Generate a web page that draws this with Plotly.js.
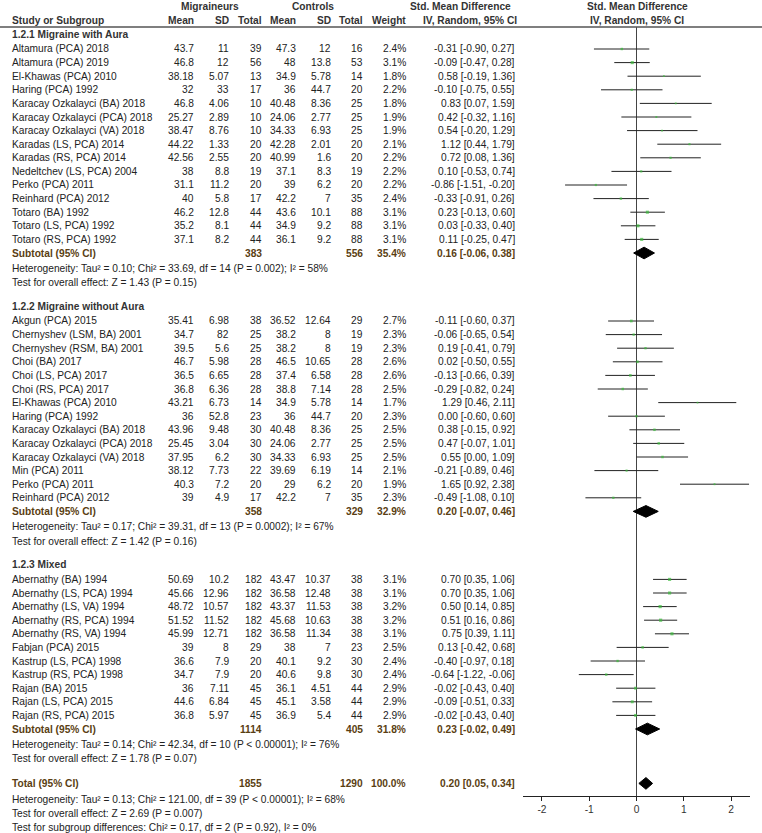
<!DOCTYPE html>
<html>
<head>
<meta charset="utf-8">
<script src="https://cdn.plot.ly/plotly-3.0.1.min.js"></script>
<style>html,body{margin:0;padding:0;background:#fff;}#chart{width:762px;height:833px;}</style>
</head>
<body>
<div id="chart"></div>
<script>
// ---------- DATA ----------
const groupTitles = ["1.2.1 Migraine with Aura", "1.2.2 Migraine without Aura", "1.2.3 Mixed"];

const studies1 = ["Altamura (PCA) 2018","Altamura (PCA) 2019","El-Khawas (PCA) 2010","Haring (PCA) 1992","Karacay Ozkalayci (BA) 2018","Karacay Ozkalayci (PCA) 2018","Karacay Ozkalayci (VA) 2018","Karadas (LS, PCA) 2014","Karadas (RS, PCA) 2014","Nedeltchev (LS, PCA) 2004","Perko (PCA) 2011","Reinhard (PCA) 2012","Totaro (BA) 1992","Totaro (LS, PCA) 1992","Totaro (RS, PCA) 1992"];
const mMean1 = [43.7,46.8,38.18,32,46.8,25.27,38.47,44.22,42.56,38,31.1,40,46.2,35.2,37.1];
const mSD1 = [11,12,5.07,33,4.06,2.89,8.76,1.33,2.55,8.8,11.2,5.8,12.8,8.1,8.2];
const mN1 = [39,56,13,17,10,10,10,20,20,19,20,17,44,44,44];
const cMean1 = [47.3,48,34.9,36,40.48,24.06,34.33,42.28,40.99,37.1,39,42.2,43.6,34.9,36.1];
const cSD1 = [12,13.8,5.78,44.7,8.36,2.77,6.93,2.01,1.6,8.3,6.2,7,10.1,9.2,9.2];
const cN1 = [16,53,14,20,25,25,25,20,20,19,20,35,88,88,88];
const w1 = [2.4,3.1,1.8,2.2,1.8,1.9,1.9,2.1,2.2,2.2,2.2,2.4,3.1,3.1,3.1];
const smd1 = [-0.31,-0.09,0.58,-0.10,0.83,0.42,0.54,1.12,0.72,0.10,-0.86,-0.33,0.23,0.03,0.11];
const lo1 = [-0.90,-0.47,-0.19,-0.75,0.07,-0.32,-0.20,0.44,0.08,-0.53,-1.51,-0.91,-0.13,-0.33,-0.25];
const hi1 = [0.27,0.28,1.36,0.55,1.59,1.16,1.29,1.79,1.36,0.74,-0.20,0.26,0.60,0.40,0.47];

const studies2 = ["Akgun (PCA) 2015","Chernyshev (LSM, BA) 2001","Chernyshev (RSM, BA) 2001","Choi (BA) 2017","Choi (LS, PCA) 2017","Choi (RS, PCA) 2017","El-Khawas (PCA) 2010","Haring (PCA) 1992","Karacay Ozkalayci (BA) 2018","Karacay Ozkalayci (PCA) 2018","Karacay Ozkalayci (VA) 2018","Min (PCA) 2011","Perko (PCA) 2011","Reinhard (PCA) 2012"];
const mMean2 = [35.41,34.7,39.5,46.7,36.5,36.8,43.21,36,43.96,25.45,37.95,38.12,40.3,39];
const mSD2 = [6.98,82,5.6,5.98,6.65,6.36,6.73,52.8,9.48,3.04,6.2,7.73,7.2,4.9];
const mN2 = [38,25,25,28,28,28,14,23,30,30,30,22,20,17];
const cMean2 = [36.52,38.2,38.2,46.5,37.4,38.8,34.9,36,40.48,24.06,34.33,39.69,29,42.2];
const cSD2 = [12.64,8,8,10.65,6.58,7.14,5.78,44.7,8.36,2.77,6.93,6.19,6.2,7];
const cN2 = [29,19,19,28,28,28,14,20,25,25,25,14,20,35];
const w2 = [2.7,2.3,2.3,2.6,2.6,2.5,1.7,2.3,2.5,2.5,2.5,2.1,1.9,2.3];
const smd2 = [-0.11,-0.06,0.19,0.02,-0.13,-0.29,1.29,0.00,0.38,0.47,0.55,-0.21,1.65,-0.49];
const lo2 = [-0.60,-0.65,-0.41,-0.50,-0.66,-0.82,0.46,-0.60,-0.15,-0.07,0.00,-0.89,0.92,-1.08];
const hi2 = [0.37,0.54,0.79,0.55,0.39,0.24,2.11,0.60,0.92,1.01,1.09,0.46,2.38,0.10];

const studies3 = ["Abernathy (BA) 1994","Abernathy (LS, PCA) 1994","Abernathy (LS, VA) 1994","Abernathy (RS, PCA) 1994","Abernathy (RS, VA) 1994","Fabjan (PCA) 2015","Kastrup (LS, PCA) 1998","Kastrup (RS, PCA) 1998","Rajan (BA) 2015","Rajan (LS, PCA) 2015","Rajan (RS, PCA) 2015"];
const mMean3 = [50.69,45.66,48.72,51.52,45.99,39,36.6,34.7,36,44.6,36.8];
const mSD3 = [10.2,12.96,10.57,11.52,12.71,8,7.9,7.9,7.11,6.84,5.97];
const mN3 = [182,182,182,182,182,29,20,20,45,45,45];
const cMean3 = [43.47,36.58,43.37,45.68,36.58,38,40.1,40.6,36.1,45.1,36.9];
const cSD3 = [10.37,12.48,11.53,10.63,11.34,7,9.2,9.8,4.51,3.58,5.4];
const cN3 = [38,38,38,38,38,23,30,30,44,44,44];
const w3 = [3.1,3.1,3.2,3.2,3.1,2.5,2.4,2.4,2.9,2.9,2.9];
const smd3 = [0.70,0.70,0.50,0.51,0.75,0.13,-0.40,-0.64,-0.02,-0.09,-0.02];
const lo3 = [0.35,0.35,0.14,0.16,0.39,-0.42,-0.97,-1.22,-0.43,-0.51,-0.43];
const hi3 = [1.06,1.06,0.85,0.86,1.11,0.68,0.18,-0.06,0.40,0.33,0.40];

// subtotals per group
const subN_m = [383, 358, 1114];
const subN_c = [556, 329, 405];
const subW = [35.4, 32.9, 31.8];
const subSMD = [0.16, 0.20, 0.23];
const subLo = [-0.06, -0.07, -0.02];
const subHi = [0.38, 0.46, 0.49];
const subHet = [
  "Heterogeneity: Tau² = 0.10; Chi² = 33.69, df = 14 (P = 0.002); I² = 58%",
  "Heterogeneity: Tau² = 0.17; Chi² = 39.31, df = 13 (P = 0.0002); I² = 67%",
  "Heterogeneity: Tau² = 0.14; Chi² = 42.34, df = 10 (P < 0.00001); I² = 76%"
];
const subTest = [
  "Test for overall effect: Z = 1.43 (P = 0.15)",
  "Test for overall effect: Z = 1.42 (P = 0.16)",
  "Test for overall effect: Z = 1.78 (P = 0.07)"
];

const totN_m = 1855, totN_c = 1290, totW = 100.0, totSMD = 0.20, totLo = 0.05, totHi = 0.34;
const totLines = [
  "Heterogeneity: Tau² = 0.13; Chi² = 121.00, df = 39 (P < 0.00001); I² = 68%",
  "Test for overall effect: Z = 2.69 (P = 0.007)",
  "Test for subgroup differences: Chi² = 0.17, df = 2 (P = 0.92), I² = 0%"
];

const tickVals = [-2, -1, 0, 1, 2];
const tickText = ["-2", "-1", "0", "1", "2"];

// ---------- STYLE / LAYOUT ----------
const W = 762, H = 833;
const TOP = 27, BOT = 796, ROW = 13.6, Y0 = 49;
const FONT = 'Arial, "Liberation Sans", sans-serif';
const FS = 10.2;
const TXT = '#222';
const HDR = '#333';
const BRN = '#5a3e12';
const GREEN = '#3cba3c';

const groups = [
  {title: groupTitles[0], names: studies1, mM: mMean1, mS: mSD1, mN: mN1, cM: cMean1, cS: cSD1, cN: cN1, w: w1, e: smd1, lo: lo1, hi: hi1},
  {title: groupTitles[1], names: studies2, mM: mMean2, mS: mSD2, mN: mN2, cM: cMean2, cS: cSD2, cN: cN2, w: w2, e: smd2, lo: lo2, hi: hi2},
  {title: groupTitles[2], names: studies3, mM: mMean3, mS: mSD3, mN: mN3, cM: cMean3, cS: cSD3, cN: cN3, w: w3, e: smd3, lo: lo3, hi: hi3}
];

// column edges in pixels
const COL = {name: 12, mM: 194, mS: 228.5, mN: 261.5, cM: 296, cS: 331, cN: 362.5, w: 406, ci: 515};

const annotations = [];
const paperY = r => (BOT - (Y0 + r * ROW)) / (BOT - TOP);
function ann(text, xpx, row, anchor, color, bold) {
  const off = anchor === 'right' ? 2 : (anchor === 'left' ? -2 : 0);
  annotations.push({
    xref: 'paper', yref: 'paper', x: (xpx + off) / W, y: paperY(row),
    text: bold ? '<b>' + text + '</b>' : text,
    xanchor: anchor, yanchor: 'middle', showarrow: false,
    font: {family: FONT, size: FS, color: color}
  });
}
const fmtCI = (e, l, h) => e.toFixed(2) + ' [' + l.toFixed(2) + ', ' + h.toFixed(2) + ']';

// headers
const H1 = -3.1, H2 = -2.07;
ann('Migraineurs', 210, H1, 'center', HDR, true);
ann('Controls', 313, H1, 'center', HDR, true);
ann('Std. Mean Difference', 460.5, H1, 'center', HDR, true);
ann('Std. Mean Difference', 637, H1, 'center', HDR, true);
ann('Study or Subgroup', COL.name, H2, 'left', HDR, true);
ann('Mean', COL.mM, H2, 'right', HDR, true);
ann('SD', COL.mS, H2, 'right', HDR, true);
ann('Total', COL.mN, H2, 'right', HDR, true);
ann('Mean', COL.cM, H2, 'right', HDR, true);
ann('SD', COL.cS, H2, 'right', HDR, true);
ann('Total', COL.cN, H2, 'right', HDR, true);
ann('Weight', COL.w, H2, 'right', HDR, true);
ann('IV, Random, 95% CI', 469.5, H2, 'center', HDR, true);
ann('IV, Random, 95% CI', 637, H2, 'center', HDR, true);

const traces = [];
const ptX = [], ptY = [], ptPlus = [], ptMinus = [], ptSize = [];
const DH = 0.43; // diamond half-height in row units

function diamond(e, l, h, y) {
  traces.push({
    type: 'scatter', mode: 'lines', x: [l, e, h, e, l], y: [y, y - DH, y, y + DH, y],
    fill: 'toself', fillcolor: '#000', line: {color: '#000', width: 1},
    hoverinfo: 'skip', showlegend: false
  });
}

let k = 0;
groups.forEach((g, gi) => {
  ann(g.title, COL.name, k - 1.1, 'left', HDR, true);
  g.names.forEach((nm, i) => {
    const y = k + i;
    ann(nm, COL.name, y, 'left', TXT, false);
    ann(String(g.mM[i]), COL.mM, y, 'right', TXT, false);
    ann(String(g.mS[i]), COL.mS, y, 'right', TXT, false);
    ann(String(g.mN[i]), COL.mN, y, 'right', TXT, false);
    ann(String(g.cM[i]), COL.cM, y, 'right', TXT, false);
    ann(String(g.cS[i]), COL.cS, y, 'right', TXT, false);
    ann(String(g.cN[i]), COL.cN, y, 'right', TXT, false);
    ann(g.w[i].toFixed(1) + '%', COL.w, y, 'right', TXT, false);
    ann(fmtCI(g.e[i], g.lo[i], g.hi[i]), COL.ci, y, 'right', TXT, false);
    ptX.push(g.e[i]); ptY.push(y);
    ptPlus.push(g.hi[i] - g.e[i]); ptMinus.push(g.e[i] - g.lo[i]);
    ptSize.push(g.w[i] * 1.0);
  });
  const ys = k + g.names.length;
  ann('Subtotal (95% CI)', COL.name, ys, 'left', BRN, true);
  ann(String(subN_m[gi]), COL.mN, ys, 'right', BRN, true);
  ann(String(subN_c[gi]), COL.cN, ys, 'right', BRN, true);
  ann(subW[gi].toFixed(1) + '%', COL.w, ys, 'right', BRN, true);
  ann(fmtCI(subSMD[gi], subLo[gi], subHi[gi]), COL.ci, ys, 'right', BRN, true);
  diamond(subSMD[gi], subLo[gi], subHi[gi], ys);
  ann(subHet[gi], COL.name, ys + 1.13, 'left', TXT, false);
  ann(subTest[gi], COL.name, ys + 2.18, 'left', TXT, false);
  k = ys + 5;
});

const yt = k - 1; // total row
ann('Total (95% CI)', COL.name, yt, 'left', BRN, true);
ann(String(totN_m), COL.mN, yt, 'right', BRN, true);
ann(String(totN_c), COL.cN, yt, 'right', BRN, true);
ann(totW.toFixed(1) + '%', COL.w, yt, 'right', BRN, true);
ann(fmtCI(totSMD, totLo, totHi), COL.ci, yt, 'right', BRN, true);
diamond(totSMD, totLo, totHi, yt);
totLines.forEach((t, i) => ann(t, COL.name, yt + 1.15 + i * 1.03, 'left', TXT, false));

traces.push({
  type: 'scatter', mode: 'markers', x: ptX, y: ptY,
  marker: {symbol: 'square', size: ptSize, color: GREEN, line: {width: 0}},
  error_x: {type: 'data', symmetric: false, array: ptPlus, arrayminus: ptMinus,
            color: '#222', thickness: 1, width: 0},
  hoverinfo: 'skip', showlegend: false
});

const layout = {
  width: W, height: H,
  margin: {l: 0, r: 0, t: TOP, b: H - BOT, pad: 0},
  paper_bgcolor: '#fff', plot_bgcolor: '#fff',
  showlegend: false,
  font: {family: FONT, size: FS, color: TXT},
  xaxis: {
    domain: [523 / W, 750 / W], range: [-2.4, 2.4],
    showgrid: false, zeroline: true, zerolinecolor: '#444', zerolinewidth: 1,
    showline: true, linecolor: '#222', linewidth: 1,
    ticks: 'outside', ticklen: 4, tickcolor: '#222', tickwidth: 1,
    tickvals: tickVals, ticktext: tickText,
    tickfont: {family: FONT, size: FS, color: '#333'}, fixedrange: true
  },
  yaxis: {
    range: [(BOT - Y0) / ROW, (TOP - Y0) / ROW],
    visible: false, showgrid: false, zeroline: false, fixedrange: true
  },
  shapes: [
    {type: 'line', xref: 'paper', yref: 'paper', x0: 0, x1: 1, y0: 1, y1: 1,
     line: {color: '#555', width: 1.5}}
  ],
  annotations: annotations
};

Plotly.newPlot('chart', traces, layout, {staticPlot: true, displayModeBar: false});
</script>
</body>
</html>
